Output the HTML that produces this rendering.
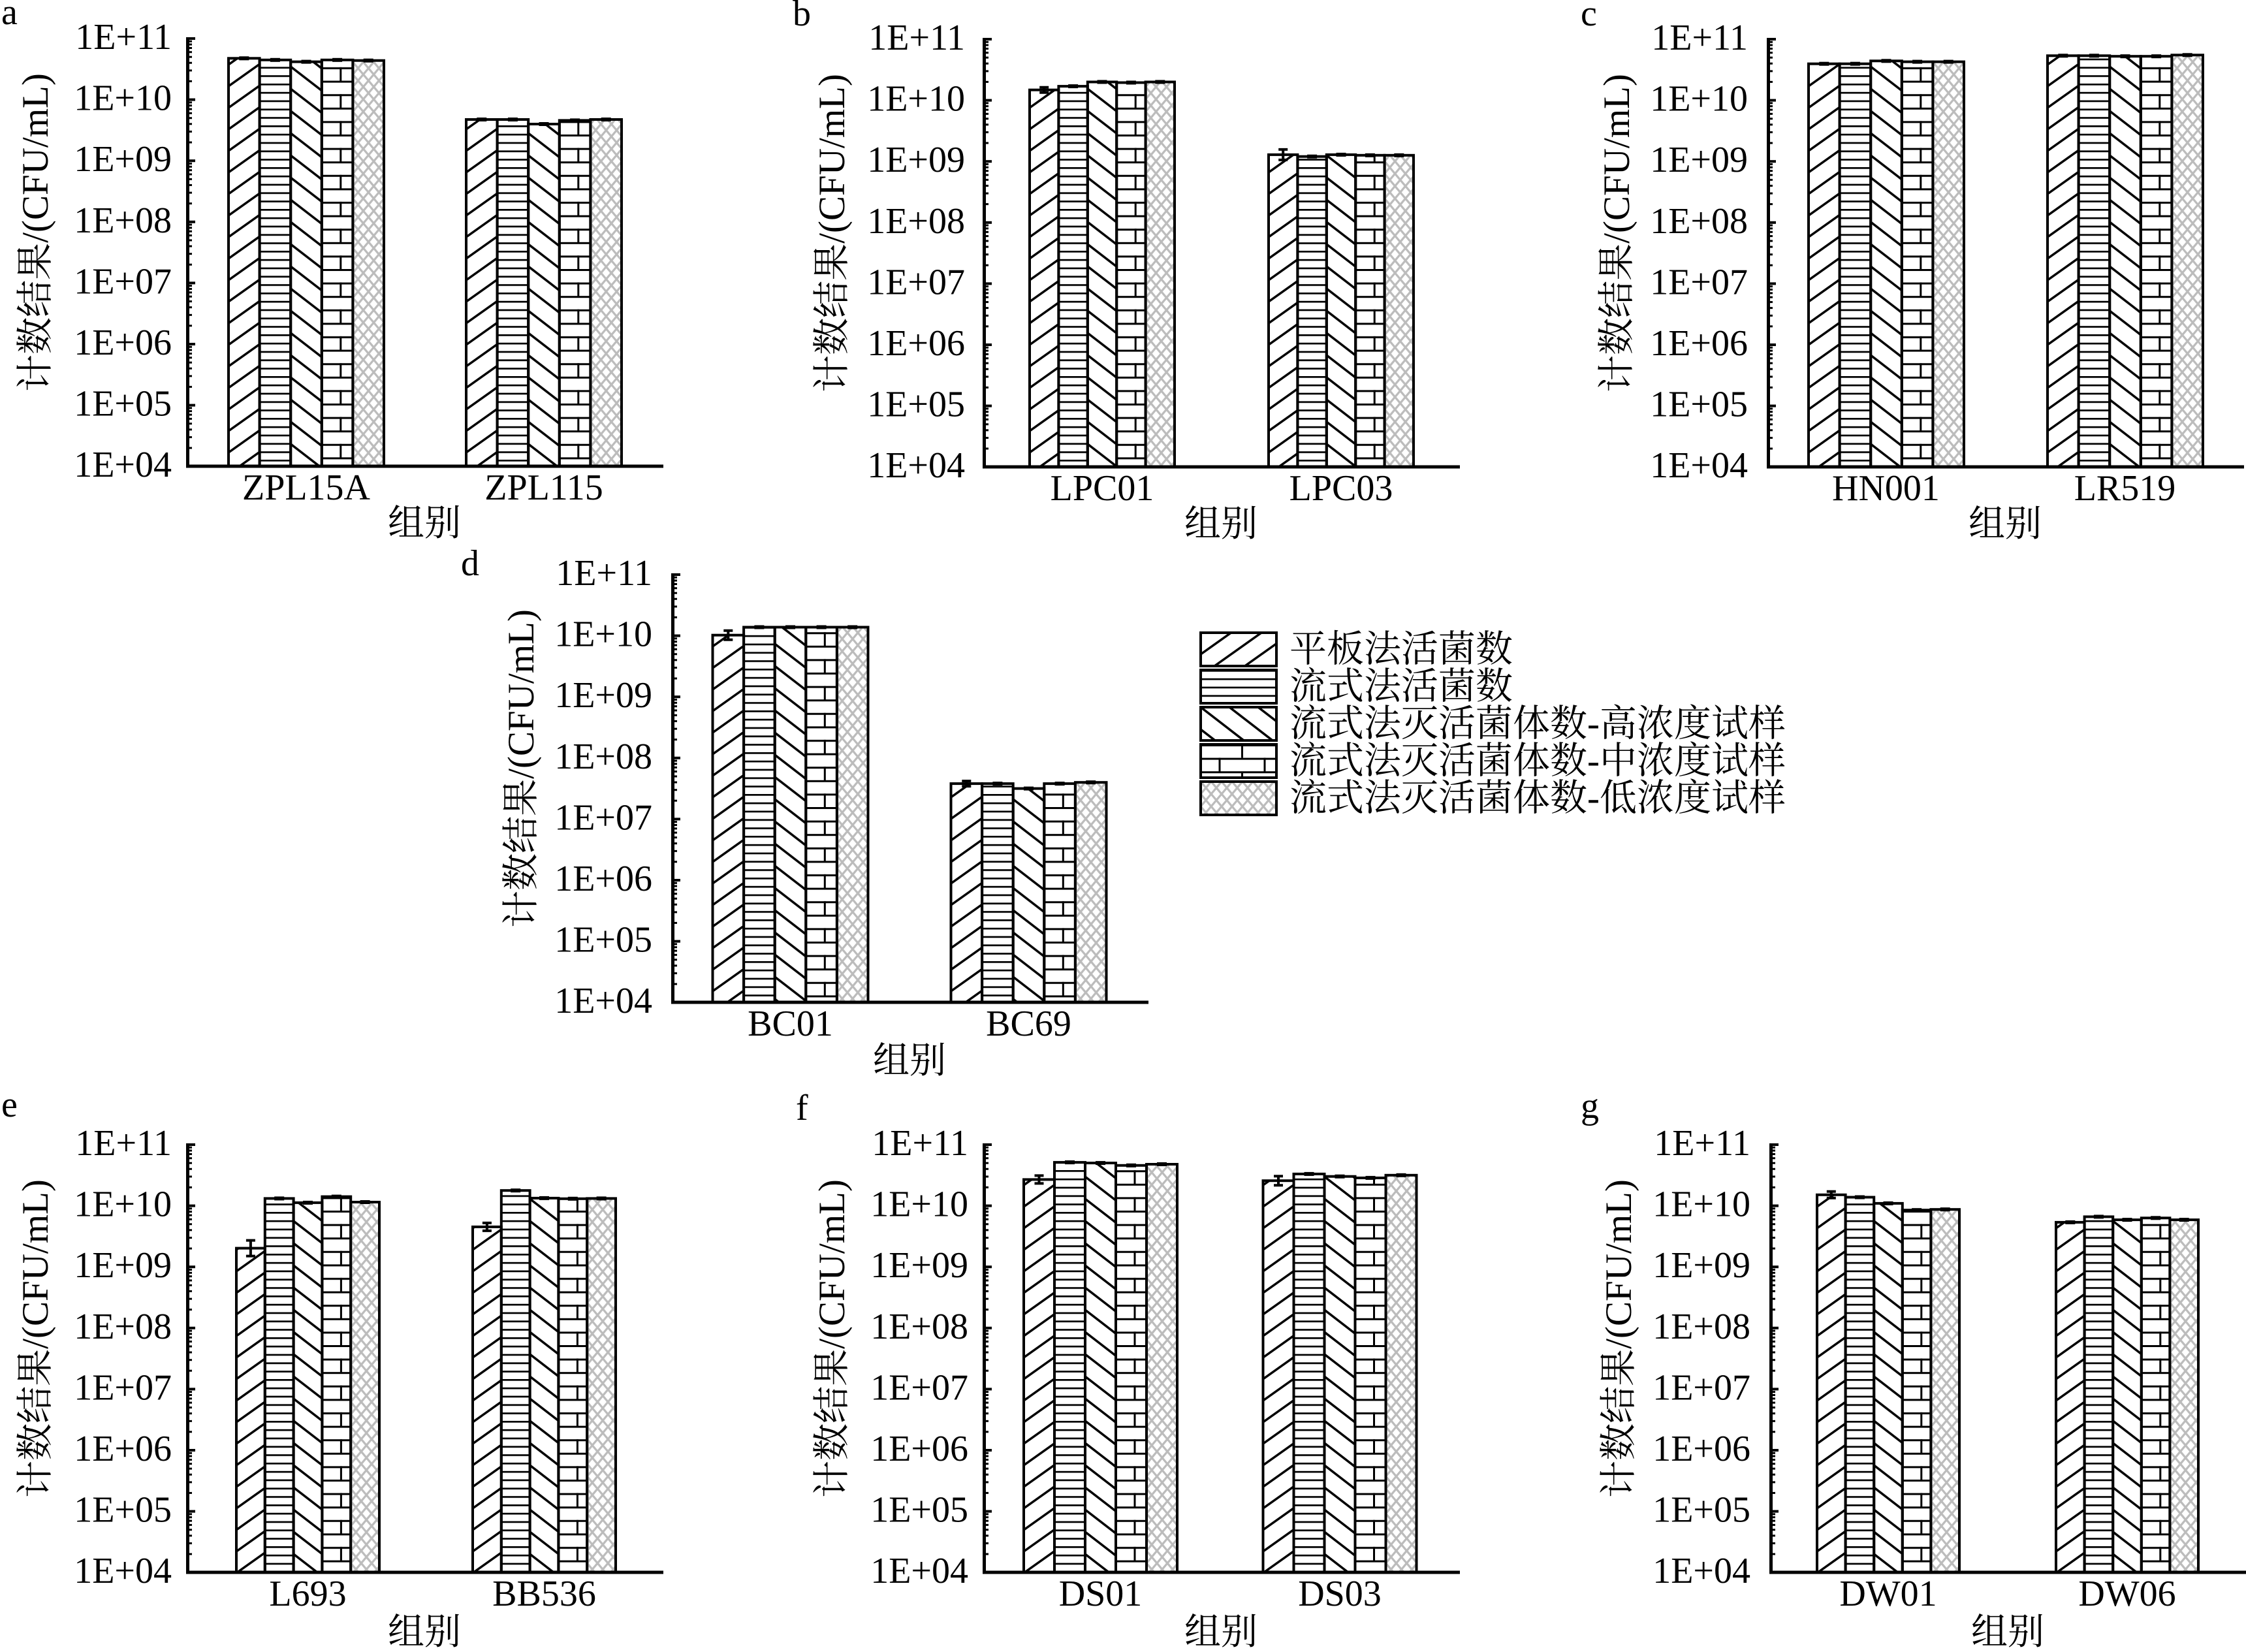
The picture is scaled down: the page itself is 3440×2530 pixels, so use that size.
<!DOCTYPE html>
<html><head><meta charset="utf-8"><style>
html,body{margin:0;padding:0;background:#fff;}
svg{display:block;}
text{font-family:"Liberation Serif","Noto Serif CJK SC",serif;font-size:56px;fill:#000;}
.tl{text-anchor:end;}
.cl{text-anchor:middle;}
.yt{font-size:57px;text-anchor:middle;}
.lg{font-size:57px;}
</style></head><body>
<svg xmlns="http://www.w3.org/2000/svg" xmlns:xlink="http://www.w3.org/1999/xlink" width="3440" height="2530" viewBox="0 0 3440 2530">
<defs>
<pattern id="p1" patternUnits="userSpaceOnUse" width="46.5" height="33">
<path d="M-23.25,16.5 L23.25,-16.5 M-11.6,41.25 L58.1,-8.25 M23.25,49.5 L69.75,16.5" stroke="#000" stroke-width="3.5" fill="none"/>
</pattern>
<pattern id="p2" patternUnits="userSpaceOnUse" width="20" height="12.8">
<rect x="0" y="0" width="20" height="2.7" fill="#000"/>
</pattern>
<pattern id="p3" patternUnits="userSpaceOnUse" width="44" height="34">
<path d="M-11,-8.5 L55,42.5 M22,-17 L66,17 M-22,17 L22,51" stroke="#000" stroke-width="3.5" fill="none"/>
</pattern>
<pattern id="p4" patternUnits="userSpaceOnUse" width="69" height="41.2">
<rect x="0" y="0" width="69" height="3" fill="#000"/>
<rect x="0" y="20.6" width="69" height="3" fill="#000"/>
<rect x="27.5" y="20.6" width="3" height="20.6" fill="#000"/>
<rect x="62" y="0" width="3" height="20.6" fill="#000"/>
</pattern>
<pattern id="p5" patternUnits="userSpaceOnUse" width="16" height="19">
<path d="M-8,9.5 L8,-9.5 M-4,23.75 L20,-4.75 M8,28.5 L24,9.5 M-4,-4.75 L20,23.75 M8,-9.5 L24,9.5 M-8,9.5 L8,28.5" stroke="#bcbcbc" stroke-width="3.3" fill="none"/>
</pattern>
<g id="mn">
<rect x="0" y="2.78" width="9" height="3"/>
<rect x="0" y="7.57" width="9" height="3"/>
<rect x="0" y="13.0" width="9" height="3"/>
<rect x="0" y="19.27" width="9" height="3"/>
<rect x="0" y="26.68" width="9" height="3"/>
<rect x="0" y="35.75" width="9" height="3"/>
<rect x="0" y="47.44" width="9" height="3"/>
<rect x="0" y="63.92" width="9" height="3"/>
</g>
<g id="ax">
<rect x="0" y="-2" width="5" height="659.5"/>
<rect x="0" y="-2" width="14" height="4"/>
<rect x="0" y="91.6" width="14" height="4"/>
<rect x="0" y="185.2" width="14" height="4"/>
<rect x="0" y="278.8" width="14" height="4"/>
<rect x="0" y="372.4" width="14" height="4"/>
<rect x="0" y="466" width="14" height="4"/>
<rect x="0" y="559.6" width="14" height="4"/>
<use href="#mn" y="0"/>
<use href="#mn" y="93.6"/>
<use href="#mn" y="187.2"/>
<use href="#mn" y="280.8"/>
<use href="#mn" y="374.4"/>
<use href="#mn" y="468"/>
<use href="#mn" y="561.6"/>
<rect x="0" y="652.5" width="731" height="5"/>
</g>
<rect id="eb" x="-7.5" y="-3" width="15" height="6" fill="#000"/>
</defs>

<!-- ================= Panel a ================= -->
<text x="2" y="37">a</text>
<g stroke="#000" stroke-width="4">
<g transform="translate(350,0)"><rect x="0" y="89.3" width="47.6" height="624.7" fill="url(#p1)"/></g>
<g transform="translate(397.6,0)"><rect x="0" y="91.8" width="47.6" height="622.2" fill="url(#p2)"/></g>
<g transform="translate(445.2,0)"><rect x="0" y="94.6" width="47.6" height="619.4" fill="url(#p3)"/></g>
<g transform="translate(492.8,0)"><rect x="0" y="91.8" width="47.6" height="622.2" fill="url(#p4)"/></g>
<g transform="translate(540.4,0)"><rect x="0" y="92.7" width="47.6" height="621.3" fill="url(#p5)"/></g>
<g transform="translate(714,0)"><rect x="0" y="183" width="47.6" height="531" fill="url(#p1)"/></g>
<g transform="translate(761.6,0)"><rect x="0" y="183" width="47.6" height="531" fill="url(#p2)"/></g>
<g transform="translate(809.2,0)"><rect x="0" y="190" width="47.6" height="524" fill="url(#p3)"/></g>
<g transform="translate(856.8,0)"><rect x="0" y="184.4" width="47.6" height="529.6" fill="url(#p4)"/></g>
<g transform="translate(904.4,0)"><rect x="0" y="183" width="47.6" height="531" fill="url(#p5)"/></g>
</g>
<use href="#eb" x="373.8" y="89.3"/><use href="#eb" x="421.4" y="91.8"/><use href="#eb" x="469" y="94.6"/><use href="#eb" x="516.6" y="91.8"/><use href="#eb" x="564.2" y="92.7"/>
<use href="#eb" x="737.8" y="183"/><use href="#eb" x="785.4" y="183"/><use href="#eb" x="833" y="190"/><use href="#eb" x="880.6" y="184.4"/><use href="#eb" x="928.2" y="183"/>
<use href="#ax" transform="translate(285,59)"/>
<text class="tl" x="263" y="75">1E+11</text>
<text class="tl" x="263" y="168.6">1E+10</text>
<text class="tl" x="263" y="262.2">1E+09</text>
<text class="tl" x="263" y="355.8">1E+08</text>
<text class="tl" x="263" y="449.4">1E+07</text>
<text class="tl" x="263" y="543">1E+06</text>
<text class="tl" x="263" y="636.6">1E+05</text>
<text class="tl" x="263" y="730.2">1E+04</text>
<text class="cl" x="469" y="765">ZPL15A</text>
<text class="cl" x="833" y="765">ZPL115</text>
<text class="cl" x="650" y="820">组别</text>
<text class="yt" transform="translate(52,356) rotate(-90)" x="0" y="21">计数结果/(CFU/mL)</text>

<!-- ================= Panel b ================= -->
<text x="1214" y="39">b</text>
<g stroke="#000" stroke-width="4">
<g transform="translate(1577,0)"><rect x="0" y="137.7" width="44.4" height="577.3" fill="url(#p1)"/></g>
<g transform="translate(1621.4,0)"><rect x="0" y="132.1" width="44.4" height="582.9" fill="url(#p2)"/></g>
<g transform="translate(1665.8,0)"><rect x="0" y="125.5" width="44.4" height="589.5" fill="url(#p3)"/></g>
<g transform="translate(1710.2,0)"><rect x="0" y="126.5" width="44.4" height="588.5" fill="url(#p4)"/></g>
<g transform="translate(1754.6,0)"><rect x="0" y="125.5" width="44.4" height="589.5" fill="url(#p5)"/></g>
<g transform="translate(1943,0)"><rect x="0" y="236.9" width="44.4" height="478.1" fill="url(#p1)"/></g>
<g transform="translate(1987.4,0)"><rect x="0" y="239.7" width="44.4" height="475.3" fill="url(#p2)"/></g>
<g transform="translate(2031.8,0)"><rect x="0" y="236.9" width="44.4" height="478.1" fill="url(#p3)"/></g>
<g transform="translate(2076.2,0)"><rect x="0" y="237.8" width="44.4" height="477.2" fill="url(#p4)"/></g>
<g transform="translate(2120.6,0)"><rect x="0" y="237.8" width="44.4" height="477.2" fill="url(#p5)"/></g>
</g>
<path d="M1592.2,133.7 h14 M1599.2,133.7 V141.7 M1592.2,141.7 h14" stroke="#000" stroke-width="4" fill="none"/>
<use href="#eb" x="1643.6" y="132.1"/><use href="#eb" x="1688" y="125.5"/><use href="#eb" x="1732.4" y="126.5"/><use href="#eb" x="1776.8" y="125.5"/>
<path d="M1958.2,228.9 h14 M1965.2,228.9 V244.9 M1958.2,244.9 h14" stroke="#000" stroke-width="4" fill="none"/>
<use href="#eb" x="2009.6" y="239.7"/><use href="#eb" x="2054" y="236.9"/><use href="#eb" x="2098.4" y="237.8"/><use href="#eb" x="2142.8" y="237.8"/>
<use href="#ax" transform="translate(1505,60)"/>
<text class="tl" x="1478" y="76">1E+11</text>
<text class="tl" x="1478" y="169.6">1E+10</text>
<text class="tl" x="1478" y="263.2">1E+09</text>
<text class="tl" x="1478" y="356.8">1E+08</text>
<text class="tl" x="1478" y="450.4">1E+07</text>
<text class="tl" x="1478" y="544">1E+06</text>
<text class="tl" x="1478" y="637.6">1E+05</text>
<text class="tl" x="1478" y="731.2">1E+04</text>
<text class="cl" x="1688" y="766">LPC01</text>
<text class="cl" x="2054" y="766">LPC03</text>
<text class="cl" x="1870" y="821">组别</text>
<text class="yt" transform="translate(1272,357) rotate(-90)" x="0" y="21">计数结果/(CFU/mL)</text>

<!-- ================= Panel c ================= -->
<text x="2421" y="39">c</text>
<g stroke="#000" stroke-width="4">
<g transform="translate(2770,0)"><rect x="0" y="97.7" width="47.6" height="617.3" fill="url(#p1)"/></g>
<g transform="translate(2817.6,0)"><rect x="0" y="97.7" width="47.6" height="617.3" fill="url(#p2)"/></g>
<g transform="translate(2865.2,0)"><rect x="0" y="93.3" width="47.6" height="621.7" fill="url(#p3)"/></g>
<g transform="translate(2912.8,0)"><rect x="0" y="94.6" width="47.6" height="620.4" fill="url(#p4)"/></g>
<g transform="translate(2960.4,0)"><rect x="0" y="94.6" width="47.6" height="620.4" fill="url(#p5)"/></g>
<g transform="translate(3136,0)"><rect x="0" y="85.3" width="47.6" height="629.7" fill="url(#p1)"/></g>
<g transform="translate(3183.6,0)"><rect x="0" y="85.3" width="47.6" height="629.7" fill="url(#p2)"/></g>
<g transform="translate(3231.2,0)"><rect x="0" y="86.2" width="47.6" height="628.8" fill="url(#p3)"/></g>
<g transform="translate(3278.8,0)"><rect x="0" y="86.2" width="47.6" height="628.8" fill="url(#p4)"/></g>
<g transform="translate(3326.4,0)"><rect x="0" y="84.3" width="47.6" height="630.7" fill="url(#p5)"/></g>
</g>
<use href="#eb" x="2793.8" y="97.7"/><use href="#eb" x="2841.4" y="97.7"/><use href="#eb" x="2889" y="93.3"/><use href="#eb" x="2936.6" y="94.6"/><use href="#eb" x="2984.2" y="94.6"/>
<use href="#eb" x="3159.8" y="85.3"/><use href="#eb" x="3207.4" y="85.3"/><use href="#eb" x="3255" y="86.2"/><use href="#eb" x="3302.6" y="86.2"/><use href="#eb" x="3350.2" y="84.3"/>
<use href="#ax" transform="translate(2706,60)"/>
<text class="tl" x="2677" y="76">1E+11</text>
<text class="tl" x="2677" y="169.6">1E+10</text>
<text class="tl" x="2677" y="263.2">1E+09</text>
<text class="tl" x="2677" y="356.8">1E+08</text>
<text class="tl" x="2677" y="450.4">1E+07</text>
<text class="tl" x="2677" y="544">1E+06</text>
<text class="tl" x="2677" y="637.6">1E+05</text>
<text class="tl" x="2677" y="731.2">1E+04</text>
<text class="cl" x="2888.5" y="766">HN001</text>
<text class="cl" x="3254.5" y="766">LR519</text>
<text class="cl" x="3071" y="821">组别</text>
<text class="yt" transform="translate(2474,357) rotate(-90)" x="0" y="21">计数结果/(CFU/mL)</text>

<!-- ================= Panel d ================= -->
<text x="706" y="881">d</text>
<g stroke="#000" stroke-width="4">
<g transform="translate(1091.5,0)"><rect x="0" y="972.7" width="47.6" height="562.3" fill="url(#p1)"/></g>
<g transform="translate(1139.1,0)"><rect x="0" y="960.5" width="47.6" height="574.5" fill="url(#p2)"/></g>
<g transform="translate(1186.7,0)"><rect x="0" y="960.5" width="47.6" height="574.5" fill="url(#p3)"/></g>
<g transform="translate(1234.3,0)"><rect x="0" y="960.5" width="47.6" height="574.5" fill="url(#p4)"/></g>
<g transform="translate(1281.9,0)"><rect x="0" y="960.5" width="47.6" height="574.5" fill="url(#p5)"/></g>
<g transform="translate(1456.5,0)"><rect x="0" y="1200.1" width="47.6" height="334.9" fill="url(#p1)"/></g>
<g transform="translate(1504.1,0)"><rect x="0" y="1200.1" width="47.6" height="334.9" fill="url(#p2)"/></g>
<g transform="translate(1551.7,0)"><rect x="0" y="1207.6" width="47.6" height="327.4" fill="url(#p3)"/></g>
<g transform="translate(1599.3,0)"><rect x="0" y="1200.1" width="47.6" height="334.9" fill="url(#p4)"/></g>
<g transform="translate(1646.9,0)"><rect x="0" y="1198.2" width="47.6" height="336.8" fill="url(#p5)"/></g>
</g>
<path d="M1108.3,965.7 h14 M1115.3,965.7 V979.7 M1108.3,979.7 h14" stroke="#000" stroke-width="4" fill="none"/>
<use href="#eb" x="1162.9" y="960.5"/><use href="#eb" x="1210.5" y="960.5"/><use href="#eb" x="1258.1" y="960.5"/><use href="#eb" x="1305.7" y="960.5"/>
<path d="M1473.3,1196.1 h14 M1480.3,1196.1 V1204.1 M1473.3,1204.1 h14" stroke="#000" stroke-width="4" fill="none"/>
<use href="#eb" x="1527.9" y="1200.1"/><use href="#eb" x="1575.5" y="1207.6"/><use href="#eb" x="1623.1" y="1200.1"/><use href="#eb" x="1670.7" y="1198.2"/>
<use href="#ax" transform="translate(1028,880)"/>
<text class="tl" x="999" y="896">1E+11</text>
<text class="tl" x="999" y="989.6">1E+10</text>
<text class="tl" x="999" y="1083.2">1E+09</text>
<text class="tl" x="999" y="1176.8">1E+08</text>
<text class="tl" x="999" y="1270.4">1E+07</text>
<text class="tl" x="999" y="1364">1E+06</text>
<text class="tl" x="999" y="1457.6">1E+05</text>
<text class="tl" x="999" y="1551.2">1E+04</text>
<text class="cl" x="1210.5" y="1586">BC01</text>
<text class="cl" x="1575.5" y="1586">BC69</text>
<text class="cl" x="1393" y="1643">组别</text>
<text class="yt" transform="translate(796,1177) rotate(-90)" x="0" y="21">计数结果/(CFU/mL)</text>

<!-- ================= Legend ================= -->
<g stroke="#000" stroke-width="4">
<g transform="translate(1839,969)"><rect x="0" y="0" width="116" height="51" fill="url(#p1)"/></g>
<g transform="translate(1839,1026)"><rect x="0" y="0" width="116" height="51" fill="url(#p2)"/></g>
<g transform="translate(1839,1083)"><rect x="0" y="0" width="116" height="51" fill="url(#p3)"/></g>
<g transform="translate(1839,1140)"><rect x="0" y="0" width="116" height="51" fill="url(#p4)"/></g>
<g transform="translate(1839,1197)"><rect x="0" y="0" width="116" height="51" fill="url(#p5)"/></g>
</g>
<text class="lg" x="1975" y="1013">平板法活菌数</text>
<text class="lg" x="1975" y="1070">流式法活菌数</text>
<text class="lg" x="1975" y="1127">流式法灭活菌体数-高浓度试样</text>
<text class="lg" x="1975" y="1184">流式法灭活菌体数-中浓度试样</text>
<text class="lg" x="1975" y="1241">流式法灭活菌体数-低浓度试样</text>

<!-- ================= Panel e ================= -->
<text x="2" y="1710">e</text>
<g stroke="#000" stroke-width="4">
<g transform="translate(362,0)"><rect x="0" y="1911.6" width="43.8" height="496.4" fill="url(#p1)"/></g>
<g transform="translate(405.8,0)"><rect x="0" y="1835.4" width="43.8" height="572.6" fill="url(#p2)"/></g>
<g transform="translate(449.6,0)"><rect x="0" y="1841.9" width="43.8" height="566.1" fill="url(#p3)"/></g>
<g transform="translate(493.4,0)"><rect x="0" y="1832.6" width="43.8" height="575.4" fill="url(#p4)"/></g>
<g transform="translate(537.2,0)"><rect x="0" y="1841" width="43.8" height="567" fill="url(#p5)"/></g>
<g transform="translate(724,0)"><rect x="0" y="1878.9" width="43.8" height="529.1" fill="url(#p1)"/></g>
<g transform="translate(767.8,0)"><rect x="0" y="1823.2" width="43.8" height="584.8" fill="url(#p2)"/></g>
<g transform="translate(811.6,0)"><rect x="0" y="1834.9" width="43.8" height="573.1" fill="url(#p3)"/></g>
<g transform="translate(855.4,0)"><rect x="0" y="1835.8" width="43.8" height="572.2" fill="url(#p4)"/></g>
<g transform="translate(899.2,0)"><rect x="0" y="1835.4" width="43.8" height="572.6" fill="url(#p5)"/></g>
</g>
<path d="M376.9,1899.6 h14 M383.9,1899.6 V1923.6 M376.9,1923.6 h14" stroke="#000" stroke-width="4" fill="none"/>
<use href="#eb" x="427.7" y="1835.4"/><use href="#eb" x="471.5" y="1841.9"/><use href="#eb" x="515.3" y="1832.6"/><use href="#eb" x="559.1" y="1841"/>
<path d="M738.9,1872.9 h14 M745.9,1872.9 V1884.9 M738.9,1884.9 h14" stroke="#000" stroke-width="4" fill="none"/>
<use href="#eb" x="789.7" y="1823.2"/><use href="#eb" x="833.5" y="1834.9"/><use href="#eb" x="877.3" y="1835.8"/><use href="#eb" x="921.1" y="1835.4"/>
<use href="#ax" transform="translate(285,1753)"/>
<text class="tl" x="263" y="1769">1E+11</text>
<text class="tl" x="263" y="1862.6">1E+10</text>
<text class="tl" x="263" y="1956.2">1E+09</text>
<text class="tl" x="263" y="2049.8">1E+08</text>
<text class="tl" x="263" y="2143.4">1E+07</text>
<text class="tl" x="263" y="2237">1E+06</text>
<text class="tl" x="263" y="2330.6">1E+05</text>
<text class="tl" x="263" y="2424.2">1E+04</text>
<text class="cl" x="471.5" y="2459">L693</text>
<text class="cl" x="833.5" y="2459">BB536</text>
<text class="cl" x="650" y="2518">组别</text>
<text class="yt" transform="translate(52,2050) rotate(-90)" x="0" y="21">计数结果/(CFU/mL)</text>

<!-- ================= Panel f ================= -->
<text x="1219" y="1715">f</text>
<g stroke="#000" stroke-width="4">
<g transform="translate(1568,0)"><rect x="0" y="1806.4" width="47" height="601.6" fill="url(#p1)"/></g>
<g transform="translate(1615,0)"><rect x="0" y="1780.1" width="47" height="627.9" fill="url(#p2)"/></g>
<g transform="translate(1662,0)"><rect x="0" y="1781.1" width="47" height="626.9" fill="url(#p3)"/></g>
<g transform="translate(1709,0)"><rect x="0" y="1784.8" width="47" height="623.2" fill="url(#p4)"/></g>
<g transform="translate(1756,0)"><rect x="0" y="1783" width="47" height="625" fill="url(#p5)"/></g>
<g transform="translate(1934.5,0)"><rect x="0" y="1808.2" width="47" height="599.8" fill="url(#p1)"/></g>
<g transform="translate(1981.5,0)"><rect x="0" y="1797.9" width="47" height="610.1" fill="url(#p2)"/></g>
<g transform="translate(2028.5,0)"><rect x="0" y="1801.7" width="47" height="606.3" fill="url(#p3)"/></g>
<g transform="translate(2075.5,0)"><rect x="0" y="1803.9" width="47" height="604.1" fill="url(#p4)"/></g>
<g transform="translate(2122.5,0)"><rect x="0" y="1799.8" width="47" height="608.2" fill="url(#p5)"/></g>
</g>
<path d="M1584.5,1800.4 h14 M1591.5,1800.4 V1812.4 M1584.5,1812.4 h14" stroke="#000" stroke-width="4" fill="none"/>
<use href="#eb" x="1638.5" y="1780.1"/><use href="#eb" x="1685.5" y="1781.1"/><use href="#eb" x="1732.5" y="1784.8"/><use href="#eb" x="1779.5" y="1783"/>
<path d="M1951,1801.2 h14 M1958,1801.2 V1815.2 M1951,1815.2 h14" stroke="#000" stroke-width="4" fill="none"/>
<use href="#eb" x="2005" y="1797.9"/><use href="#eb" x="2052" y="1801.7"/><use href="#eb" x="2099" y="1803.9"/><use href="#eb" x="2146" y="1799.8"/>
<use href="#ax" transform="translate(1505,1753)"/>
<text class="tl" x="1483" y="1769">1E+11</text>
<text class="tl" x="1483" y="1862.6">1E+10</text>
<text class="tl" x="1483" y="1956.2">1E+09</text>
<text class="tl" x="1483" y="2049.8">1E+08</text>
<text class="tl" x="1483" y="2143.4">1E+07</text>
<text class="tl" x="1483" y="2237">1E+06</text>
<text class="tl" x="1483" y="2330.6">1E+05</text>
<text class="tl" x="1483" y="2424.2">1E+04</text>
<text class="cl" x="1685.5" y="2459">DS01</text>
<text class="cl" x="2052" y="2459">DS03</text>
<text class="cl" x="1870" y="2518">组别</text>
<text class="yt" transform="translate(1272,2050) rotate(-90)" x="0" y="21">计数结果/(CFU/mL)</text>

<!-- ================= Panel g ================= -->
<text x="2421" y="1712">g</text>
<g stroke="#000" stroke-width="4">
<g transform="translate(2783,0)"><rect x="0" y="1829.8" width="43.6" height="578.2" fill="url(#p1)"/></g>
<g transform="translate(2826.6,0)"><rect x="0" y="1833.5" width="43.6" height="574.5" fill="url(#p2)"/></g>
<g transform="translate(2870.2,0)"><rect x="0" y="1842.9" width="43.6" height="565.1" fill="url(#p3)"/></g>
<g transform="translate(2913.8,0)"><rect x="0" y="1853.2" width="43.6" height="554.8" fill="url(#p4)"/></g>
<g transform="translate(2957.4,0)"><rect x="0" y="1852.2" width="43.6" height="555.8" fill="url(#p5)"/></g>
<g transform="translate(3149,0)"><rect x="0" y="1871.9" width="43.6" height="536.1" fill="url(#p1)"/></g>
<g transform="translate(3192.6,0)"><rect x="0" y="1863.4" width="43.6" height="544.6" fill="url(#p2)"/></g>
<g transform="translate(3236.2,0)"><rect x="0" y="1868.1" width="43.6" height="539.9" fill="url(#p3)"/></g>
<g transform="translate(3279.8,0)"><rect x="0" y="1865.3" width="43.6" height="542.7" fill="url(#p4)"/></g>
<g transform="translate(3323.4,0)"><rect x="0" y="1868.1" width="43.6" height="539.9" fill="url(#p5)"/></g>
</g>
<path d="M2797.8,1824.8 h14 M2804.8,1824.8 V1834.8 M2797.8,1834.8 h14" stroke="#000" stroke-width="4" fill="none"/>
<use href="#eb" x="2848.4" y="1833.5"/><use href="#eb" x="2892" y="1842.9"/><use href="#eb" x="2935.6" y="1853.2"/><use href="#eb" x="2979.2" y="1852.2"/>
<use href="#eb" x="3170.8" y="1871.9"/><use href="#eb" x="3214.4" y="1863.4"/><use href="#eb" x="3258" y="1868.1"/><use href="#eb" x="3301.6" y="1865.3"/><use href="#eb" x="3345.2" y="1868.1"/>
<use href="#ax" transform="translate(2710,1753)"/>
<text class="tl" x="2681" y="1769">1E+11</text>
<text class="tl" x="2681" y="1862.6">1E+10</text>
<text class="tl" x="2681" y="1956.2">1E+09</text>
<text class="tl" x="2681" y="2049.8">1E+08</text>
<text class="tl" x="2681" y="2143.4">1E+07</text>
<text class="tl" x="2681" y="2237">1E+06</text>
<text class="tl" x="2681" y="2330.6">1E+05</text>
<text class="tl" x="2681" y="2424.2">1E+04</text>
<text class="cl" x="2892" y="2459">DW01</text>
<text class="cl" x="3258" y="2459">DW06</text>
<text class="cl" x="3075" y="2518">组别</text>
<text class="yt" transform="translate(2477,2050) rotate(-90)" x="0" y="21">计数结果/(CFU/mL)</text>
</svg>
</body></html>
